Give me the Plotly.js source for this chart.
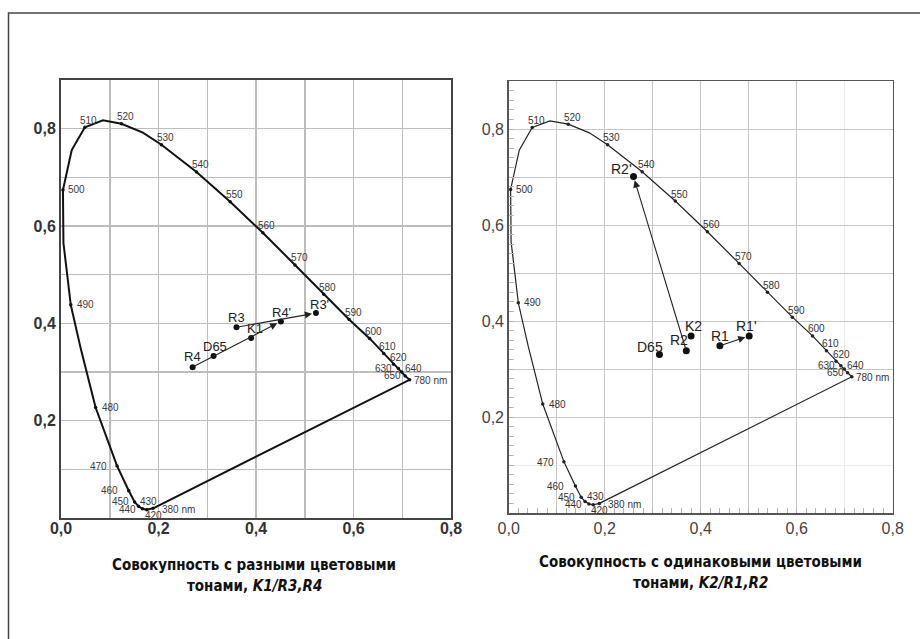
<!DOCTYPE html>
<html><head><meta charset="utf-8">
<script src="https://cdn.plot.ly/plotly-3.0.1.min.js"></script>
<style>html,body{margin:0;padding:0;background:#fff}#chart{width:920px;height:639px}</style>
</head><body><div id="chart"></div>
<script>
// ---- DATA ----
const wavelengthLabels = ['380 nm','420','430','440','450','460','470','','480','','490','','','500','','510','','520','','530','540','550','560','570','580','590','600','610','620','630','640','650','780 nm'];
const locusX = [0.189,0.176,0.167,0.159,0.151,0.139,0.115,0.093,0.071,0.041,0.020,0.012,0.005,0.004,0.022,0.049,0.086,0.124,0.168,0.206,0.278,0.347,0.414,0.480,0.539,0.591,0.633,0.662,0.682,0.692,0.699,0.706,0.715];
const locusY = [0.020,0.017,0.019,0.024,0.033,0.056,0.107,0.166,0.227,0.346,0.438,0.506,0.565,0.674,0.756,0.803,0.817,0.810,0.792,0.767,0.711,0.650,0.586,0.520,0.460,0.408,0.369,0.338,0.316,0.307,0.300,0.292,0.284];

const leftNames = ['R4','D65','K1','R3',"R4'","R3'"];
const leftX = [0.270,0.313,0.390,0.360,0.451,0.523];
const leftY = [0.310,0.333,0.370,0.392,0.404,0.421];
const leftArrows = [['R4',"R4'"],['R3',"R3'"]];

const rightNames = ['D65','R2','K2','R1',"R1'","R2'"];
const rightX = [0.314,0.370,0.380,0.440,0.501,0.260];
const rightY = [0.330,0.338,0.369,0.3485,0.369,0.701];
const rightArrows = [['R1',"R1'"],['R2',"R2'"]];

const xTickVals = [0,0.2,0.4,0.6,0.8];
const xTickText = ['0,0','0,2','0,4','0,6','0,8'];
const yTickVals = [0.2,0.4,0.6,0.8];
const yTickText = ['0,2','0,4','0,6','0,8'];
const gridVals = [0.1,0.2,0.3,0.4,0.5,0.6,0.7];

const captionLeft = ['Совокупность с разными цветовыми', 'тонами, ', 'K1/R3,R4'];
const captionRight = ['Совокупность с одинаковыми цветовыми', 'тонами, ', 'K2/R1,R2'];

// ---- STYLE ----
const W = 920, H = 639;
const wlOffset = {
  '380 nm':[8,1,'left'], '420':[-3,6,'left'], '430':[-3,-7,'left'], '440':[-2,3,'right'],
  '450':[-5,0,'right'], '460':[-10,0,'right'], '470':[-9,1,'right'], '480':[5,0,'left'],
  '490':[5,0,'left'], '500':[4,0,'left'], '510':[4,-7,'center'], '520':[4,-7,'center'],
  '530':[4,-7,'center'], '540':[4,-7,'center'], '550':[4,-7,'center'], '560':[4,-7,'center'],
  '570':[4,-7,'center'], '580':[4,-7,'center'], '590':[4,-7,'center'], '600':[4,-7,'center'],
  '610':[4,-7,'center'], '620':[5,-7,'center'], '630':[-5,0,'right'], '640':[2,-4,'left'],
  '650':[-3,0,'right'], '780 nm':[3,1,'left']
};
const leftLabelOff = {'R3':[0,-10],'K1':[4,-9],'D65':[1,-9],'R4':[0,-11],"R4'":[1,-9],"R3'":[4,-9]};
const rightLabelOff = {"R2'":[-12,-8],'K2':[2,-10],'R2':[-7,-11],'D65':[-9,-8],'R1':[0,-10],"R1'":[-3,-10]};

const FONT = 'Liberation Sans, Arial, sans-serif';
const NARROW = 'DejaVu Sans Condensed, Liberation Sans Narrow, sans-serif';

function closed(a){ return a.concat([a[0]]); }
const lx = wavelengthLabels.map((l,i)=>l?locusX[i]:null).filter(v=>v!==null);
const ly = wavelengthLabels.map((l,i)=>l?locusY[i]:null).filter(v=>v!==null);

const traces = [];
const annotations = [];

function addPanel(xa, ya, lineW, lineC, names, px, py, labelOff, arrows, ptSize, ptFont, wlFont, wlColor){
  traces.push({x: closed(locusX), y: closed(locusY), xaxis: xa, yaxis: ya, mode:'lines',
    line:{color: lineC, width: lineW}, hoverinfo:'skip'});
  traces.push({x: lx, y: ly, xaxis: xa, yaxis: ya, mode:'markers',
    marker:{color: lineC, size: 3.5}, hoverinfo:'skip'});
  traces.push({x: px, y: py, xaxis: xa, yaxis: ya, mode:'markers',
    marker:{color:'#111', size: ptSize}, hoverinfo:'skip'});
  wavelengthLabels.forEach((l,i)=>{
    if(!l) return;
    const o = wlOffset[l];
    annotations.push({x: locusX[i], y: locusY[i], xref: xa, yref: ya, text: l, showarrow:false,
      xanchor: o[2], yanchor:'middle', xshift: o[0], yshift: -o[1], borderpad:0,
      font:{family: FONT, size: wlFont, color: wlColor}});
  });
  names.forEach((n,i)=>{
    const o = labelOff[n];
    annotations.push({x: px[i], y: py[i], xref: xa, yref: ya, text: n, showarrow:false,
      xanchor:'center', yanchor:'middle', xshift:o[0], yshift:-o[1], borderpad:0,
      font:{family: FONT, size: ptFont, color:'#222'}});
  });
  arrows.forEach(([a,b])=>{
    const i = names.indexOf(a), j = names.indexOf(b);
    annotations.push({x: px[j], y: py[j], ax: px[i], ay: py[i], xref: xa, yref: ya, axref: xa, ayref: ya,
      text:'', showarrow:true, arrowhead:2, arrowsize:1.3, arrowwidth:1.1, arrowcolor:'#222', standoff: 4});
  });
}

addPanel('x','y', 2, '#111', leftNames, leftX, leftY, leftLabelOff, leftArrows, 6, 13, 10, '#3a3a3a');
addPanel('x2','y2', 1.2, '#222', rightNames, rightX, rightY, rightLabelOff, rightArrows, 7, 14, 10, '#333');

// captions
function caption(c, xc, y1, y2){
  annotations.push({xref:'paper', yref:'paper', x: xc/W, y: 1 - y1/H, xanchor:'center', yanchor:'middle',
    showarrow:false, text: '<b>' + c[0] + '</b>', font:{family: NARROW, size: 15, color:'#111'}});
  annotations.push({xref:'paper', yref:'paper', x: xc/W, y: 1 - y2/H, xanchor:'center', yanchor:'middle',
    showarrow:false, text: '<b>' + c[1] + '<i>' + c[2] + '</i></b>', font:{family: NARROW, size: 15, color:'#111'}});
}
caption(captionLeft, 254, 565, 586);
caption(captionRight, 700, 562, 583);

// main grid lines: every 0.1 for the left panel; right panel lacks strong lines at x=0.7 and y=0.1
function merged(vals, texts, extra){
  const all = vals.concat(extra.filter(v=>vals.indexOf(v)<0)).sort((a,b)=>a-b);
  return {tickvals: all, ticktext: all.map(v=>{const k=vals.indexOf(v); return k>=0?texts[k]:'';})};
}
const lxT = merged(xTickVals, xTickText, gridVals);
const lyT = merged(yTickVals, yTickText, gridVals);
const rxT = merged(xTickVals, xTickText, gridVals.filter(v=>v!==0.7));
const ryT = merged(yTickVals, yTickText, gridVals.filter(v=>v!==0.1));

function axisCommon(o){ return Object.assign({showline:true, mirror:true, zeroline:false, ticks:'', fixedrange:true}, o); }

const layout = {
  width: W, height: H, margin:{l:0,r:0,t:0,b:0}, paper_bgcolor:'#fff', plot_bgcolor:'#fff', showlegend:false,
  xaxis: axisCommon({domain:[61/W, 451/W], range:[0,0.8], anchor:'y', linecolor:'#444', linewidth:2,
    tickvals: lxT.tickvals, ticktext: lxT.ticktext, gridcolor:'#bdbdbd', gridwidth:1.5, ticklabelstandoff:-5,
    tickfont:{family: FONT, size:16, color:'#333', weight:'bold'}}),
  yaxis: axisCommon({domain:[(H-518)/H, (H-80)/H], range:[0,0.9], anchor:'x', linecolor:'#444', linewidth:2,
    tickvals: lyT.tickvals, ticktext: lyT.ticktext, gridcolor:'#bdbdbd', gridwidth:1.5,
    tickfont:{family: FONT, size:16, color:'#333', weight:'bold'}}),
  xaxis2: axisCommon({domain:[508.7/W, 892.7/W], range:[0,0.8], anchor:'y2', linecolor:'#555', linewidth:1.5,
    tickvals: rxT.tickvals, ticktext: rxT.ticktext, gridcolor:'#c6c6c6', gridwidth:1,
    minor:{dtick:0.1, tick0:0, showgrid:true, gridcolor:'#ececec', gridwidth:1},
    tickfont:{family: FONT, size:16, color:'#444'}}),
  yaxis2: axisCommon({domain:[(H-513)/H, (H-81)/H], range:[0,0.9], anchor:'x2', linecolor:'#555', linewidth:1.5,
    tickvals: ryT.tickvals, ticktext: ryT.ticktext, gridcolor:'#c6c6c6', gridwidth:1,
    minor:{dtick:0.1, tick0:0, showgrid:true, gridcolor:'#ececec', gridwidth:1},
    tickfont:{family: FONT, size:16, color:'#444'}}),
  xaxis3: {overlaying:'x2', anchor:'y2', range:[0,0.8], side:'bottom', showgrid:false, zeroline:false,
    showticklabels:false, ticks:'inside', dtick:0.02, tick0:0, ticklen:5, tickcolor:'#b5b5b5', tickwidth:1, fixedrange:true},
  yaxis3: {overlaying:'y2', anchor:'x2', range:[0,0.9], side:'left', showgrid:false, zeroline:false,
    showticklabels:false, ticks:'inside', dtick:0.02, tick0:0, ticklen:5, tickcolor:'#b5b5b5', tickwidth:1, fixedrange:true},
  annotations: annotations,
  shapes: [{type:'rect', xref:'paper', yref:'paper', x0: 8.5/W, x1: 1.02, y0: -0.05, y1: 1 - 13/H,
    line:{color:'#444', width:1.5}, layer:'above'}]
};
traces.push({x:[null], y:[null], xaxis:'x3', yaxis:'y3', mode:'markers', hoverinfo:'skip'});

Plotly.newPlot('chart', traces, layout, {displayModeBar:false, staticPlot:true});
</script></body></html>
